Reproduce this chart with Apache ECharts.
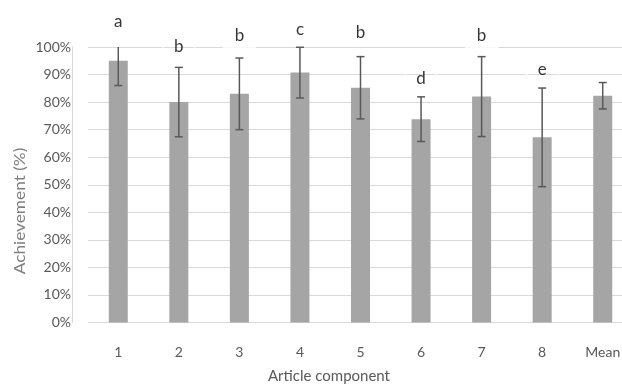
<!DOCTYPE html>
<html>
<head>
<meta charset="utf-8">
<script src="https://cdn.jsdelivr.net/npm/echarts@6/dist/echarts.min.js"></script>
<style>html,body{margin:0;padding:0;background:#fff}#c{width:622px;height:387px}</style>
</head>
<body>
<div id="c"></div>
<script>
const categories = ['1', '2', '3', '4', '5', '6', '7', '8', 'Mean'];
const achievement = [95, 80, 83, 90.7, 85.2, 73.8, 82, 67.2, 82.3];
const errorMargin = [9, 12.6, 13, 9.2, 11.3, 8.1, 14.5, 17.9, 4.8];
const letters = ['a', 'b', 'b', 'c', 'b', 'd', 'b', 'e', ''];
const letterY = [109.1, 100.1, 104.3, 106.5, 105.1, 88.4, 104.3, 92, null];
const yMin = 0, yMax = 100, yStep = 10;

const FONT = 'Lato';
const chart = echarts.init(document.getElementById('c'), null, {renderer: 'canvas'});

const errData = categories.map((c, i) => [i, achievement[i], errorMargin[i]]);
const letterData = categories.map((c, i) => letterY[i] == null ? null : [i, letterY[i]]);

chart.setOption({
  animation: false,
  backgroundColor: '#fff',
  grid: {left: 88, top: 47, width: 545, height: 275.5, containLabel: false, outerBoundsMode: 'none'},
  title: {
    text: 'Article component', left: 268, top: 369, padding: 0,
    textStyle: {fontFamily: FONT, fontSize: 15, fontWeight: 'normal', color: '#595959'}
  },
  graphic: [{
    type: 'text', x: 20, y: 211, rotation: Math.PI / 2, scaleX: 1.15,
    style: {text: 'Achievement (%)', fill: '#7f7f7f', font: '15px Lato', align: 'center', verticalAlign: 'middle', textAlign: 'center', textVerticalAlign: 'middle'}
  }],
  xAxis: {
    type: 'category', data: categories,
    axisLine: {show: false}, axisTick: {show: false},
    axisLabel: {margin: 23, fontFamily: FONT, fontSize: 14, color: '#595959'}
  },
  yAxis: {
    type: 'value', min: yMin, max: yMax, interval: yStep, offset: 16,
    axisLine: {show: true, lineStyle: {color: '#d9d9d9'}},
    axisTick: {show: false},
    axisLabel: {margin: 1, formatter: '{value}%', fontFamily: FONT, fontSize: 14, color: '#595959'},
    splitLine: {lineStyle: {color: '#d9d9d9', width: 1}}
  },
  series: [{
    type: 'bar', data: achievement, barWidth: 19,
    itemStyle: {color: '#a5a5a5'}
  }, {
    type: 'custom', data: errData, z: 5,
    encode: {x: 0, y: 1},
    renderItem: function (params, api) {
      const x = api.value(0), m = api.value(1), e = api.value(2);
      const topV = Math.min(yMax, m + e), lowV = m - e;
      const pTop = api.coord([x, topV]);
      const pLow = api.coord([x, lowV]);
      const cap = 4;
      const style = {stroke: '#595959', lineWidth: 1.5};
      const children = [
        {type: 'line', shape: {x1: pTop[0], y1: pTop[1], x2: pLow[0], y2: pLow[1]}, style: style},
        {type: 'line', shape: {x1: pLow[0] - cap, y1: pLow[1], x2: pLow[0] + cap, y2: pLow[1]}, style: style}
      ];
      if (m + e <= yMax) {
        children.push({type: 'line', shape: {x1: pTop[0] - cap, y1: pTop[1], x2: pTop[0] + cap, y2: pTop[1]}, style: style});
      }
      return {type: 'group', children: children};
    }
  }, {
    type: 'scatter', data: letterData, symbolSize: 0, clip: false, z: 10,
    label: {
      show: true, position: 'inside',
      formatter: p => letters[p.dataIndex],
      fontFamily: FONT, fontSize: 17, color: '#000',
      borderColor: '#fff', borderWidth: 2, padding: [4, 11]
    }
  }]
});
</script>
</body>
</html>
